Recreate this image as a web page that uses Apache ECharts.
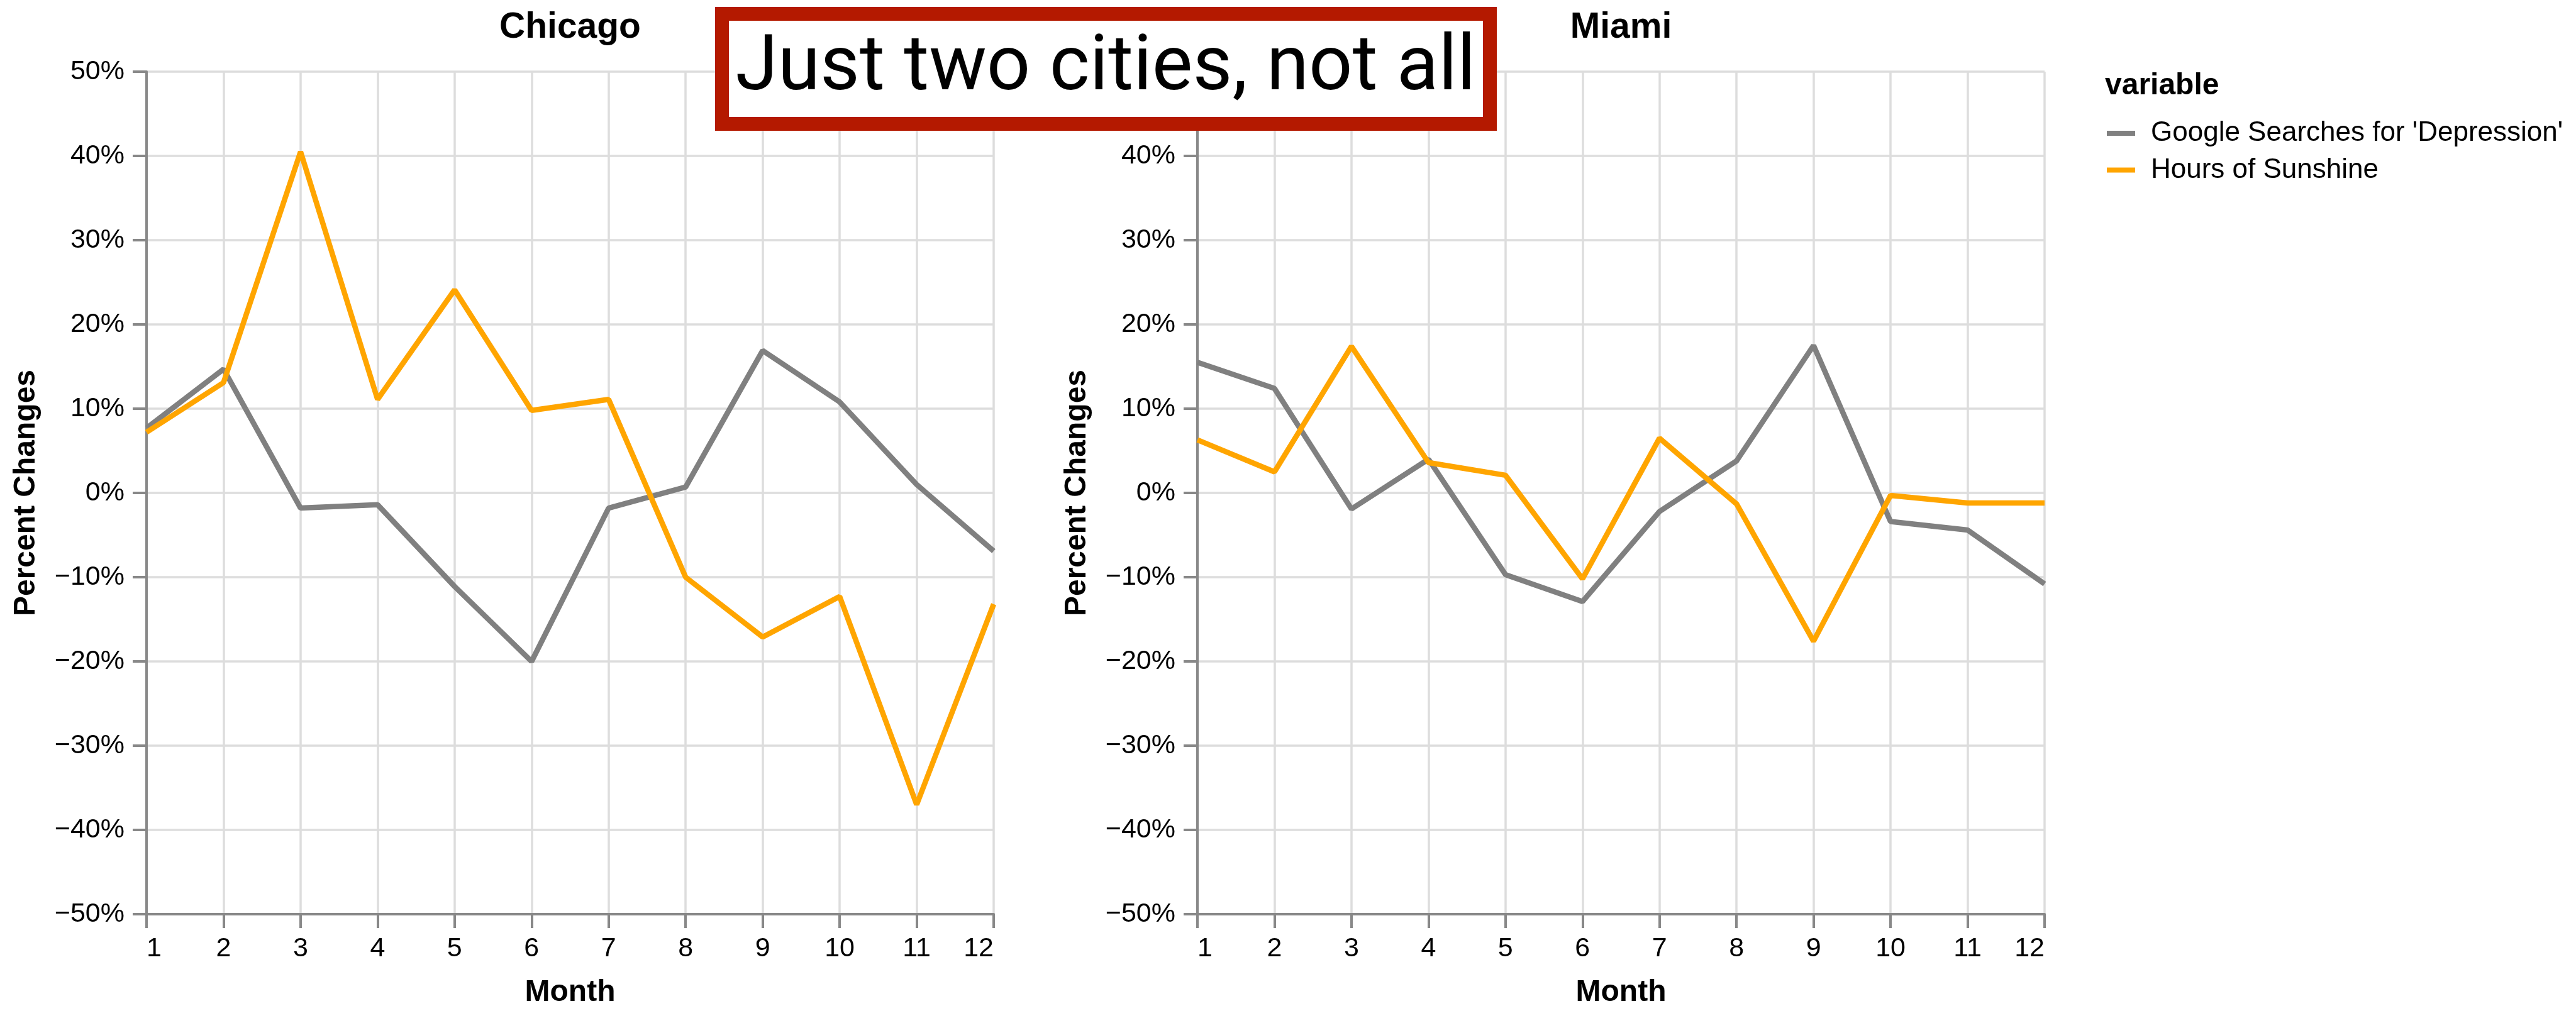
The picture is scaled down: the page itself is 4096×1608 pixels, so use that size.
<!DOCTYPE html>
<html>
<head>
<meta charset="utf-8">
<script src="https://cdn.jsdelivr.net/npm/echarts@6/dist/echarts.min.js"></script>
<style>
html, body { margin: 0; padding: 0; background: #ffffff; }
#chart { width: 4096px; height: 1608px; }
</style>
</head>
<body>
<div id="chart"></div>
<script>
// ---------- data ----------
const cities = ['Chicago', 'Miami'];
const seriesNames = ["Google Searches for 'Depression'", 'Hours of Sunshine'];
const months = [1, 2, 3, 4, 5, 6, 7, 8, 9, 10, 11, 12];
const chicagoSearches = [7.7, 14.7, -1.8, -1.4, -11.1, -20.0, -1.8, 0.7, 16.9, 10.8, 1.0, -6.9];
const chicagoSunshine = [7.2, 13.1, 40.5, 11.1, 24.1, 9.8, 11.1, -10.0, -17.1, -12.3, -37.0, -13.2];
const miamiSearches = [15.5, 12.4, -1.9, 4.0, -9.7, -12.9, -2.2, 3.8, 17.5, -3.4, -4.4, -10.8];
const miamiSunshine = [6.3, 2.5, 17.4, 3.6, 2.1, -10.2, 6.5, -1.3, -17.6, -0.3, -1.2, -1.2];
const yMin = -50, yMax = 50, yStep = 10;
const annotationText = 'Just two cities, not all';
const legendTitle = 'variable';
const xTitle = 'Month';
const yTitle = 'Percent Changes';

// ---------- styling ----------
const FONT = "'Liberation Sans', Arial, Helvetica, sans-serif";
const GRAY = '#808080';
const ORANGE = '#FFA500';
const seriesColors = [GRAY, ORANGE];
const gridRects = [
  { left: 233, top: 114, width: 1347, height: 1349 },
  { left: 1904, top: 114, width: 1347, height: 1349 }
];
const cityData = [[chicagoSearches, chicagoSunshine], [miamiSearches, miamiSunshine]];

function fmtPct(v) {
  return (v < 0 ? '\u2212' : '') + Math.abs(v) + '%';
}

function makeX(gi) {
  return {
    type: 'value', gridIndex: gi, min: months[0], max: months[months.length - 1], interval: 1,
    name: xTitle, nameLocation: 'middle', nameGap: 101,
    nameTextStyle: { fontFamily: FONT, fontWeight: 'bold', fontSize: 48, color: '#000', lineHeight: 48 },
    axisLine: { show: true, onZero: false, lineStyle: { color: '#888', width: 4 } },
    axisTick: { show: true, length: 22, lineStyle: { color: '#888', width: 4 } },
    axisLabel: { fontFamily: FONT, fontSize: 43, color: '#000', margin: 34, lineHeight: 43,
                 alignMinLabel: 'left', alignMaxLabel: 'right' },
    splitLine: { show: true, lineStyle: { color: '#ddd', width: 3.5 } }
  };
}
function makeY(gi) {
  return {
    type: 'value', gridIndex: gi, min: yMin, max: yMax, interval: yStep,
    name: yTitle, nameLocation: 'middle', nameGap: 167, nameRotate: 90,
    nameTextStyle: { fontFamily: FONT, fontWeight: 'bold', fontSize: 48, color: '#000', lineHeight: 48 },
    axisLine: { show: true, onZero: false, lineStyle: { color: '#888', width: 4 } },
    axisTick: { show: true, length: 22, lineStyle: { color: '#888', width: 4 } },
    axisLabel: { fontFamily: FONT, fontSize: 43, color: '#000', margin: 35, formatter: fmtPct },
    splitLine: { show: true, lineStyle: { color: '#ddd', width: 3.5 } }
  };
}

const series = [];
cityData.forEach((pair, gi) => {
  pair.forEach((vals, si) => {
    series.push({
      name: seriesNames[si], type: 'line', xAxisIndex: gi, yAxisIndex: gi,
      data: months.map((m, i) => [m, vals[i]]),
      showSymbol: false, symbol: 'none',
      itemStyle: { color: seriesColors[si] },
      lineStyle: { color: seriesColors[si], width: 8.5 },
      emphasis: { disabled: true }, z: 3 + si
    });
  });
});

const titles = cities.map((c, gi) => ({
  text: c, left: gridRects[gi].left + gridRects[gi].width / 2, top: 16, textAlign: 'center',
  textVerticalAlign: 'top', padding: 0,
  textStyle: { fontFamily: FONT, fontWeight: 'bold', fontSize: 57, color: '#000', lineHeight: 57 }
}));
titles.push({
  text: legendTitle, left: 3347, top: 113, textAlign: 'left', textVerticalAlign: 'top', padding: 0,
  textStyle: { fontFamily: FONT, fontWeight: 'bold', fontSize: 48, color: '#000', lineHeight: 48 }
});

const option = {
  animation: false,
  backgroundColor: '#ffffff',
  title: titles,
  grid: gridRects.map(r => Object.assign({ containLabel: false }, r)),
  xAxis: [makeX(0), makeX(1)],
  yAxis: [makeY(0), makeY(1)],
  legend: {
    orient: 'vertical', left: 3350, top: 190, padding: 0,
    itemWidth: 45, itemHeight: 8, itemGap: 14.5, icon: 'rect',
    data: seriesNames,
    textStyle: { fontFamily: FONT, fontSize: 44, color: '#000', lineHeight: 44, padding: [0, 0, 0, 20] }
  },
  series: series,
  graphic: [
    { type: 'rect', z: 100, shape: { x: 1148, y: 22, width: 1221, height: 175 },
      style: { fill: '#ffffff', stroke: '#B41900', lineWidth: 22 } },
    { type: 'text', z: 101, x: 1758, y: 111,
      style: { text: annotationText, fontFamily: 'Roboto', fontSize: 122, fill: '#000',
               align: 'center', verticalAlign: 'middle' } }
  ]
};

const chart = echarts.init(document.getElementById('chart'), null, { renderer: 'canvas' });
chart.setOption(option);
</script>
</body>
</html>
